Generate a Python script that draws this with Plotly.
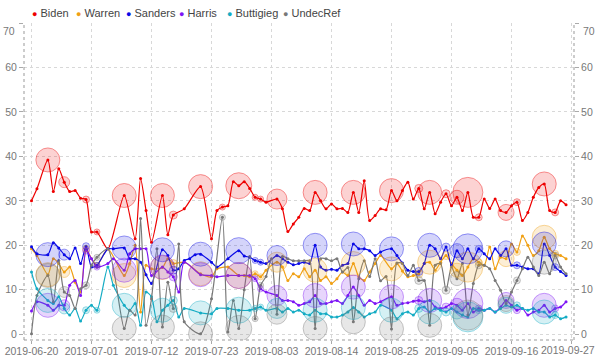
import math
import pandas as pd
import plotly.graph_objects as go

START = "2019-06-20"

biden_days = [0,1,3,4,5,6,7,8,9,10,11,12,14,17,19,20,21,22,24,25,26,28,31,33,34,35,36,37,38,39,40,41,42,43,45,46,47,48,49,50,51,52,53,54,55,56,57,58,59,60,61,62,63,64,65,66,67,68,69,70,71,72,73,74,75,76,77,78,79,80,81,82,83,84,85,86,87,88,89,90,91,92,93,94,95,96,97,98]
biden_vals = [30.0,32.7,39.2,32.1,37.2,34.2,32.1,32.3,30.6,30.3,23.0,23.0,19.2,31.2,21.5,35.0,27.8,20.7,31.2,22.4,26.8,28.2,33.2,21.5,27.8,28.6,28.9,34.3,33.4,34.3,32.8,30.8,30.4,29.7,30.4,28.2,23.1,24.8,26.3,28.3,27.8,31.9,30.0,28.2,29.3,28.2,28.3,27.4,31.9,27.4,34.5,25.6,26.7,28.2,28.0,32.3,30.0,32.3,34.2,30.4,32.8,28.2,31.9,27.1,29.7,31.6,28.9,30.8,27.8,31.9,26.3,26.3,30.4,28.3,30.4,27.8,27.4,28.9,29.7,25.6,27.4,30.8,33.0,33.8,27.8,27.4,30.0,29.1]

warren_days = [0,1,3,4,5,6,7,8,9,10,11,12,14,17,18,19,20,21,22,24,25,26,28,31,33,34,36,38,39,40,41,42,43,45,46,47,48,49,50,51,52,53,54,55,56,57,58,59,60,61,62,63,64,66,67,68,69,70,71,72,73,74,75,76,77,78,79,80,81,82,83,84,85,86,87,88,89,90,91,92,93,94,95,96,97,98]
warren_vals = [19.2,17.7,13.4,17.0,15.9,14.0,15.1,11.7,9.5,19.2,17.0,15.5,19.2,13.2,15.9,20.0,5.0,15.5,14.7,15.0,17.0,15.9,16.2,13.6,12.9,14.7,15.1,13.2,13.2,12.9,13.6,12.9,14.4,16.2,15.1,12.1,13.6,12.9,14.7,12.9,14.4,12.1,12.9,11.4,12.5,14.0,13.2,15.9,12.9,12.1,14.0,15.9,17.7,14.7,15.9,14.2,12.9,13.2,13.6,15.9,16.2,14.4,16.2,17.7,15.9,14.4,13.2,15.1,17.0,16.2,15.5,19.6,14.7,17.3,17.0,20.3,18.5,22.1,20.0,17.7,18.8,21.8,19.2,18.1,17.7,17.0]

sanders_days = [0,1,3,4,5,6,7,8,9,10,11,12,14,15,17,18,19,20,21,22,24,25,26,27,28,29,30,31,33,34,36,38,39,40,41,42,43,45,46,47,48,49,50,51,52,53,54,55,56,57,58,59,60,61,62,63,64,66,67,68,69,70,71,72,73,74,75,76,77,78,79,80,81,82,83,84,85,86,87,88,89,90,91,92,93,94,95,96,97,98]
sanders_vals = [19.7,18.1,17.9,20.6,19.4,17.9,17.0,19.4,15.9,19.8,15.1,15.5,19.2,19.2,19.4,17.0,17.0,16.2,13.4,11.4,19.0,17.7,14.4,14.7,16.6,17.0,17.9,18.0,16.2,15.1,17.0,18.8,17.6,17.3,16.6,16.2,15.9,17.7,17.0,16.2,15.6,15.9,16.2,15.9,20.0,15.1,14.4,14.6,14.4,15.5,15.9,20.3,19.2,19.2,18.8,17.7,18.5,19.2,17.7,16.0,14.4,14.1,14.1,15.9,20.0,19.2,17.0,19.6,15.5,18.8,17.0,19.2,17.0,19.2,18.1,17.0,19.2,17.7,19.2,15.5,15.5,15.1,14.7,14.7,13.6,20.3,17.7,15.1,14.1,13.2]

harris_days = [0,1,3,4,5,6,7,8,9,10,11,12,14,15,17,18,19,20,21,22,24,25,26,27,28,31,33,34,36,38,40,41,42,43,45,46,47,48,49,50,51,52,53,54,55,56,57,58,59,60,61,62,63,64,66,67,68,69,70,71,72,73,74,75,76,77,78,79,80,81,82,83,84,85,86,87,88,89,90,91,92,93,94,95,96,97,98]
harris_vals = [5.2,7.3,6.5,5.4,6.5,6.5,11.0,12.1,8.7,18.8,17.0,15.1,15.9,17.0,14.4,18.1,19.2,19.2,19.2,13.2,15.1,14.0,12.9,9.5,16.2,13.4,13.2,12.9,13.2,13.2,13.2,12.5,10.2,9.5,8.7,7.6,7.6,7.3,6.5,6.9,7.3,8.7,6.9,6.9,7.3,7.6,6.9,8.7,10.6,8.7,6.5,7.6,6.9,7.3,8.4,6.5,6.9,7.1,7.4,7.6,7.3,7.6,6.1,5.8,6.1,6.9,6.5,5.4,6.9,5.0,5.8,5.4,5.8,5.0,6.1,7.6,6.5,5.4,5.8,4.3,5.0,5.4,6.5,5.0,5.8,6.1,7.3]

buttigieg_days = [0,1,3,4,5,6,7,8,9,10,11,12,14,15,17,18,19,20,21,22,23,24,25,26,27,28,31,33,34,36,38,40,41,42,43,45,46,47,48,49,50,51,52,53,54,55,56,57,58,59,60,61,62,63,64,66,67,68,69,70,71,72,73,74,75,76,77,78,79,80,81,82,83,84,85,86,87,88,89,90,91,92,93,94,95,96,97,98]
buttigieg_vals = [14.0,10.2,7.6,6.9,8.4,5.8,4.3,5.8,3.0,5.4,6.5,5.4,15.1,11.0,6.5,5.4,6.9,2.0,9.5,8.4,2.8,5.4,6.5,7.6,3.9,5.8,4.8,4.6,5.8,5.8,5.4,5.4,5.8,6.1,5.4,5.8,5.0,5.8,5.0,5.4,4.6,4.3,5.4,4.6,4.6,3.9,3.9,4.3,5.0,6.0,5.0,3.9,4.6,5.0,6.5,5.4,3.5,4.6,5.0,4.3,5.8,6.1,5.0,5.8,5.4,5.0,5.8,5.0,4.3,3.9,5.8,5.4,5.4,5.8,5.0,5.8,6.5,6.1,6.5,5.8,5.4,5.8,5.0,5.0,3.9,4.3,3.5,3.9]

undec_days = [0,1,3,4,5,6,7,8,9,10,11,12,14,17,18,19,20,21,22,23,24,25,26,27,28,31,33,35,36,37,38,39,40,41,42,43,44,45,46,47,48,49,50,51,52,53,54,55,56,57,58,59,60,61,62,63,64,65,66,67,68,69,70,71,72,73,74,75,76,77,78,79,80,81,82,83,84,85,86,87,88,89,90,91,92,93,94,95,96,97,98]
undec_vals = [0.1,8.7,13.2,7.3,16.6,9.5,8.7,5.8,10.2,11.0,15.5,17.3,19.2,1.3,5.4,4.3,26.0,2.0,8.0,19.2,1.6,11.7,5.8,20.3,2.8,0.1,8.0,26.3,0.5,7.6,1.3,10.0,17.5,3.5,11.0,13.0,17.0,4.5,17.5,17.0,16.5,16.5,16.5,16.5,1.3,17.0,17.0,16.5,17.0,14.0,15.0,2.8,12.5,16.5,13.0,17.0,12.0,13.0,1.2,16.0,15.9,13.2,15.5,12.1,12.1,2.0,15.5,15.9,9.9,15.1,12.5,15.9,4.3,11.4,15.5,15.5,14.7,12.1,9.9,6.9,9.5,12.1,14.7,17.3,15.1,13.2,16.2,13.6,17.7,15.1,13.6]

# polls drawn as bubbles: day offset and sample size
poll_days = [3,6,10,12,17,24,26,31,35,38,41,42,45,52,59,66,71,73,76,78,80,82,87,89,94,96]
poll_n = [1440,300,120,90,1440,1440,160,1440,90,1690,90,90,1000,1440,1440,1440,160,1440,160,490,2250,120,640,120,1440,120]

y_ticks = [0, 10, 20, 30, 40, 50, 60, 70]
x_tick_days = [0, 11, 22, 33, 44, 55, 66, 77, 88, 99]

candidates = ["Biden", "Warren", "Sanders", "Harris", "Buttigieg", "UndecRef"]
series = {
    "Biden": (biden_days, biden_vals),
    "Warren": (warren_days, warren_vals),
    "Sanders": (sanders_days, sanders_vals),
    "Harris": (harris_days, harris_vals),
    "Buttigieg": (buttigieg_days, buttigieg_vals),
    "UndecRef": (undec_days, undec_vals),
}
colors = {
    "Biden": (238, 0, 0),
    "Warren": (240, 160, 20),
    "Sanders": (10, 10, 230),
    "Harris": (125, 20, 245),
    "Buttigieg": (20, 172, 196),
    "UndecRef": (120, 120, 120),
}

base = pd.Timestamp(START)
def to_date(days):
    return [base + pd.Timedelta(days=d) for d in days]

def rgba(c, a):
    return f"rgba({c[0]},{c[1]},{c[2]},{a})"

fig = go.Figure()
poll_size = dict(zip(poll_days, poll_n))

for name in candidates:
    d, v = series[name]
    c = colors[name]
    fig.add_trace(go.Scatter(
        x=to_date(d), y=v, mode="lines+markers", name=name, showlegend=False,
        line=dict(color=rgba(c, 1), width=1.2, shape="spline", smoothing=0.7),
        marker=dict(size=3, color=rgba(c, 1)),
        hoverinfo="skip",
    ))

for name in candidates:
    d, v = series[name]
    c = colors[name]
    bx, by, bs = [], [], []
    for day, val in zip(d, v):
        if day in poll_size:
            bx.append(day); by.append(val)
            bs.append(2 * math.sqrt(poll_size[day] / 10))
    fig.add_trace(go.Scatter(
        x=to_date(bx), y=by, mode="markers", showlegend=False,
        marker=dict(size=bs, color=rgba(c, 0.25),
                    line=dict(color=rgba(c, 0.6), width=1)),
        hoverinfo="skip",
    ))

# invisible trace for right axis
fig.add_trace(go.Scatter(x=to_date([0]), y=[0], yaxis="y2", mode="markers",
                         marker=dict(opacity=0), showlegend=False, hoverinfo="skip"))

FONT = "Helvetica Neue, Liberation Sans, Arial, sans-serif"
tickvals = to_date(x_tick_days)
ticktext = [t.strftime("%Y-%m-%d") for t in tickvals]
last_label = ticktext[-1]
ticktext_shown = ticktext[:-1] + [""]

W, H = 600, 357
L, R, T, B = 24, 26, 23, 17
xr = [base + pd.Timedelta(hours=-33), base + pd.Timedelta(hours=99 * 24 + 11)]
yr = [-1.3, 70]
ytext = [str(v) for v in y_ticks[:-1]] + [""]

tf = dict(size=10.5, color="#777", family=FONT)
fig.update_layout(
    width=W, height=H, margin=dict(l=L, r=R, t=T, b=B, autoexpand=False),
    paper_bgcolor="white", plot_bgcolor="white",
    font=dict(family=FONT, size=10.5, color="#777"),
    xaxis=dict(range=xr, tickvals=tickvals, ticktext=ticktext_shown, automargin=False,
               showgrid=True, gridcolor="#d8d8d8", griddash="dot", gridwidth=1,
               ticks="outside", ticklen=3, tickcolor="#aaa", showline=False,
               zeroline=False, tickfont=tf, ticklabelstandoff=-2),
    yaxis=dict(range=yr, tickvals=y_ticks, ticktext=ytext, automargin=False,
               showgrid=True, gridcolor="#d8d8d8", griddash="dot", gridwidth=1,
               ticks="outside", ticklen=4, tickcolor="#aaa", showline=False,
               zeroline=False, tickfont=tf),
    yaxis2=dict(range=yr, tickvals=y_ticks, ticktext=ytext, overlaying="y", automargin=False,
                side="right", showgrid=False, ticks="outside", ticklen=4,
                tickcolor="#aaa", zeroline=False, showline=False, tickfont=tf),
    showlegend=False,
)

for s in [dict(x0=0, x1=0, y0=0, y1=1), dict(x0=1, x1=1, y0=0, y1=1), dict(x0=0, x1=1, y0=0, y1=0)]:
    fig.add_shape(type="line", xref="paper", yref="paper", line=dict(color="#999", width=1, dash="dot"), **s)

PW, PH = W - L - R, H - T - B
# flushed labels (top y label and last x label)
fig.add_annotation(xref="paper", yref="y", x=-7 / PW, y=y_ticks[-1], yshift=-8, xanchor="right",
                   yanchor="middle", showarrow=False, text=str(y_ticks[-1]), font=tf)
fig.add_annotation(xref="paper", yref="y", x=1 + 7 / PW, y=y_ticks[-1], yshift=-8, xanchor="left",
                   yanchor="middle", showarrow=False, text=str(y_ticks[-1]), font=tf)
fig.add_annotation(xref="paper", yref="paper", x=1 + 23 / PW, y=0, yshift=-2, xanchor="right",
                   yanchor="top", showarrow=False, text=last_label, font=tf)

# legend as text annotations
leg_x = [30, 74, 124, 177, 225, 281]
for name, px in zip(candidates, leg_x):
    c = colors[name]
    fig.add_annotation(
        xref="paper", yref="paper", x=(px - L) / PW, y=1 + (T - 12.7) / PH,
        xanchor="left", yanchor="middle", showarrow=False,
        text=f"<span style='color:{rgba(c,1)};font-size:9px'>●</span> {name}",
        font=dict(family=FONT, size=11, color="#444"),
    )

fig.write_html("out.html", config={"displayModeBar": False},
               post_script="document.body.style.margin='0px';")
